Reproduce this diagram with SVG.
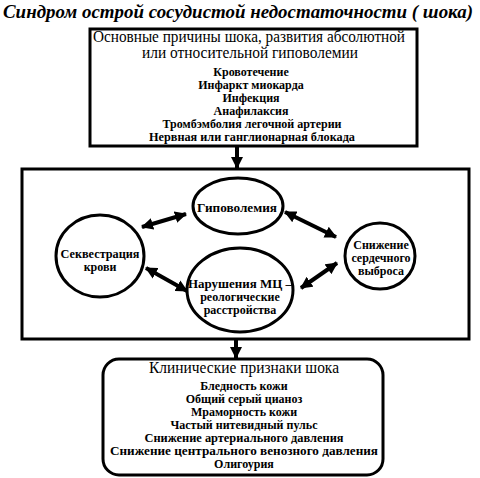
<svg xmlns="http://www.w3.org/2000/svg" width="480" height="478" viewBox="0 0 480 478">
<style>
  .box { fill: #fff; stroke: #000; stroke-width: 3; }
  .ell { fill: #fff; stroke: #000; stroke-width: 3; }
  .con { stroke: #000; stroke-width: 4; fill: none; }
  .title { font-family: "Liberation Serif", serif; font-weight: bold; font-style: italic; font-size: 19px; }
  .head { font-family: "Liberation Serif", serif; font-size: 16px; text-anchor: middle; }
  .item { font-family: "Liberation Serif", serif; font-weight: bold; font-size: 12px; text-anchor: middle; }
  .lbl { font-family: "Liberation Serif", serif; font-weight: bold; font-size: 12px; text-anchor: middle; }
</style>
<defs>
  <marker id="ah" markerUnits="userSpaceOnUse" markerWidth="14" markerHeight="12" refX="11" refY="6" orient="auto-start-reverse">
    <path d="M0,0 L12,6 L0,12 Z" fill="#000"/>
  </marker>
</defs>
<rect width="480" height="478" fill="#fff"/>
<text class="title" x="3" y="18" textLength="470" lengthAdjust="spacingAndGlyphs">Синдром острой сосудистой недостаточности ( шока)</text>

<g id="causes">
  <rect class="box" x="90" y="29" width="327" height="117"/>
  <text class="head" x="249" y="42" textLength="312" lengthAdjust="spacingAndGlyphs">Основные причины шока, развития абсолютной</text>
  <text class="head" x="250" y="58" textLength="216" lengthAdjust="spacingAndGlyphs">или относительной гиповолемии</text>
  <text class="item" x="251" y="76">Кровотечение</text>
  <text class="item" x="251" y="89">Инфаркт миокарда</text>
  <text class="item" x="251" y="102">Инфекция</text>
  <text class="item" x="251" y="115">Анафилаксия</text>
  <text class="item" x="252" y="128">Тромбэмболия легочной артерии</text>
  <text class="item" x="252" y="141" textLength="206" lengthAdjust="spacingAndGlyphs">Нервная или ганглионарная блокада</text>
</g>

<g id="mechanisms">
  <rect class="box" x="22" y="169" width="447" height="170"/>
</g>

<g id="hypovolemia">
  <ellipse class="ell" cx="238" cy="206" rx="45" ry="28"/>
  <text class="lbl" x="237" y="212" textLength="80" lengthAdjust="spacingAndGlyphs">Гиповолемия</text>
</g>
<g id="sequestration">
  <ellipse class="ell" cx="100" cy="256" rx="44" ry="41"/>
  <text class="lbl" x="100" y="258" textLength="79" lengthAdjust="spacingAndGlyphs">Секвестрация</text>
  <text class="lbl" x="100" y="271">крови</text>
</g>
<g id="microcirculation">
  <ellipse class="ell" cx="240" cy="290" rx="53" ry="42"/>
  <text class="lbl" x="240" y="288" textLength="104" lengthAdjust="spacingAndGlyphs">Нарушения МЦ –</text>
  <text class="lbl" x="240" y="301">реологические</text>
  <text class="lbl" x="240" y="314">расстройства</text>
</g>
<g id="cardiac-output">
  <ellipse class="ell" cx="380" cy="256" rx="35" ry="33"/>
  <text class="lbl" x="381" y="249">Снижение</text>
  <text class="lbl" x="381" y="262">сердечного</text>
  <text class="lbl" x="381" y="275">выброса</text>
</g>

<g id="signs">
  <rect class="box" x="103" y="359" width="280" height="116" rx="16" ry="16"/>
  <text class="head" x="244" y="373" textLength="190" lengthAdjust="spacingAndGlyphs">Клинические признаки шока</text>
  <text class="item" x="244" y="390">Бледность кожи</text>
  <text class="item" x="244" y="403">Общий серый цианоз</text>
  <text class="item" x="244" y="416">Мраморность кожи</text>
  <text class="item" x="244" y="429">Частый нитевидный пульс</text>
  <text class="item" x="244" y="442" textLength="199" lengthAdjust="spacingAndGlyphs">Снижение артериального давления</text>
  <text class="item" x="244" y="455" textLength="268" lengthAdjust="spacingAndGlyphs">Снижение центрального венозного давления</text>
  <text class="item" x="244" y="468">Олигоурия</text>
</g>

<g id="connectors">
  <line class="con" x1="237" y1="147" x2="237" y2="168" marker-end="url(#ah)"/>
  <line class="con" x1="236" y1="340" x2="236" y2="358" marker-end="url(#ah)"/>
  <line class="con" x1="142" y1="227" x2="186" y2="214" marker-start="url(#ah)" marker-end="url(#ah)"/>
  <line class="con" x1="285" y1="212" x2="336" y2="237" marker-start="url(#ah)" marker-end="url(#ah)"/>
  <line class="con" x1="146" y1="268" x2="187" y2="291" marker-start="url(#ah)" marker-end="url(#ah)"/>
  <line class="con" x1="301" y1="288" x2="337" y2="263" marker-start="url(#ah)" marker-end="url(#ah)"/>
</g>
</svg>
